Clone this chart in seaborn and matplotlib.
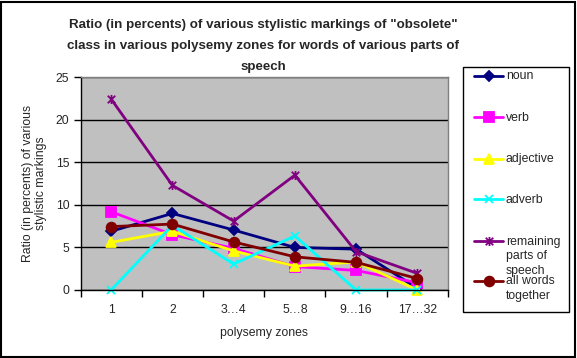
import numpy as np
import pandas as pd
import seaborn as sns
import matplotlib
matplotlib.use("Agg")
import matplotlib.pyplot as plt
from matplotlib.path import Path
from matplotlib.lines import Line2D
from matplotlib.patches import Rectangle

zones = ["1", "2", "3\u20264", "5\u20268", "9\u202616", "17\u202632"]
noun = [6.9, 9.0, 7.05, 5.0, 4.8, 0.2]
verb = [9.2, 6.5, 4.9, 2.75, 2.3, 0.85]
adjective = [5.6, 6.9, 4.6, 2.8, 3.3, 0.0]
adverb = [0.0, 7.6, 3.05, 6.35, 0.0, 0.0]
remaining = [22.45, 12.3, 8.1, 13.5, 4.5, 1.95]
all_words = [7.45, 7.75, 5.65, 3.9, 3.25, 1.35]

series_names = ["noun", "verb", "adjective", "adverb",
                "remaining parts of speech", "all words together"]
legend_labels = ["noun", "verb", "adjective", "adverb",
                 "remaining\nparts of\nspeech", "all words\ntogether"]
series_values = [noun, verb, adjective, adverb, remaining, all_words]
colors = ["#000080", "#FF00FF", "#FFFF00", "#00FFFF", "#800080", "#800000"]

star = Path([(-1, -1), (1, 1), (-1, 1), (1, -1), (0, -1.2), (0, 1.2)],
            [Path.MOVETO, Path.LINETO, Path.MOVETO, Path.LINETO, Path.MOVETO, Path.LINETO])
markers = ["D", "s", "^", "x", star, "o"]
msizes = [5.5, 6.5, 7, 6, 6.5, 7]

rows = []
for name, vals in zip(series_names, series_values):
    for i, v in enumerate(vals):
        rows.append({"zone": i, "value": v, "series": name})
df = pd.DataFrame(rows)

sns.set_theme(style="white")
plt.rcParams["font.family"] = ["Liberation Sans", "DejaVu Sans"]

FS = 8.8
fig = plt.figure(figsize=(5.77, 3.58), dpi=100)
W, H = 577, 358
ax = fig.add_axes([80.5 / W, (H - 290) / H, (448 - 80.5) / W, (290 - 77.3) / H])

for name, c, m, ms in zip(series_names, colors, markers, msizes):
    sns.lineplot(data=df[df["series"] == name], x="zone", y="value",
                 color=c, marker=m, markersize=ms, markeredgecolor=c,
                 markerfacecolor=c, markeredgewidth=1.3,
                 linewidth=2, ax=ax, legend=False, clip_on=False)

ax.set_facecolor("#C0C0C0")
ax.set_xlim(-0.5, 5.5)
ax.set_ylim(0, 25)
ax.set_yticks([0, 5, 10, 15, 20, 25])
ax.yaxis.grid(True, color="black", linewidth=1)
ax.set_axisbelow(True)
ax.set_xticks(np.arange(-0.5, 6, 1))
ax.set_xticklabels([])
ax.set_xticks(np.arange(6), minor=True)
ax.set_xticklabels(zones, minor=True)
ax.tick_params(axis="x", which="major", direction="out", length=5, width=1, color="black", bottom=True)
ax.tick_params(axis="x", which="minor", length=0, pad=10, labelsize=FS)
ax.tick_params(axis="y", direction="out", length=5, width=1, color="black", left=True, labelsize=FS, pad=3)
for s in ["top", "right"]:
    ax.spines[s].set_color("#808080")
    ax.spines[s].set_linewidth(1)
for s in ["left", "bottom"]:
    ax.spines[s].set_color("black")
    ax.spines[s].set_linewidth(1)
ax.set_xlabel("polysemy zones", fontsize=FS, labelpad=8)
ax.set_ylabel("Ratio (in percents) of various\nstylistic markings", fontsize=FS, labelpad=6,
              linespacing=1.15)

fig.text(263 / W, 1 - 46 / H,
         "Ratio (in percents) of various stylistic markings of \"obsolete\"\n"
         "class in various polysemy zones for words of various parts of\nspeech",
         ha="center", va="center", fontsize=9.6, fontweight="bold", linespacing=1.95)

# legend box
fig.patches.append(Rectangle((463.3 / W, 1 - 312.3 / H), (569.3 - 463.3) / W, (312.3 - 67.3) / H,
                             transform=fig.transFigure, facecolor="white", edgecolor="black",
                             linewidth=1, zorder=1))
key_y = [75.7, 117.3, 158.7, 199.3, 241, 280.7]
for lbl, c, m, ms, ky in zip(legend_labels, colors, markers, msizes, key_y):
    yy = 1 - ky / H
    fig.add_artist(Line2D([474 / W, 503 / W], [yy, yy], transform=fig.transFigure,
                          color=c, linewidth=2, zorder=2))
    fig.add_artist(Line2D([488.5 / W], [yy], transform=fig.transFigure, color=c,
                          marker=m, markersize=ms, markeredgecolor=c, markerfacecolor=c,
                          markeredgewidth=1.3, linestyle="none", zorder=3))
    fig.text(506 / W, yy + 5.5 / H, lbl, ha="left", va="top", fontsize=FS, linespacing=1.3, zorder=3)

fig.patches.append(Rectangle((0.5 / W, 1.5 / H), (W - 3) / W, (H - 3) / H,
                             transform=fig.transFigure, facecolor="none", edgecolor="black",
                             linewidth=1.5, zorder=0))
fig.savefig("out.png", dpi=100, facecolor="white")
